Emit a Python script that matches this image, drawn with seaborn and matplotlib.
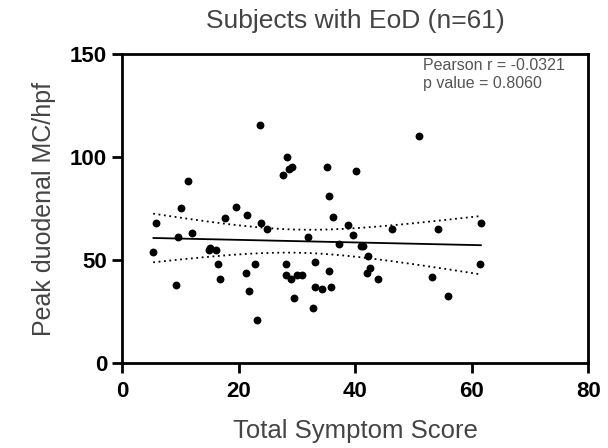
import numpy as np
import pandas as pd
import matplotlib
matplotlib.use("Agg")
import matplotlib.pyplot as plt
import seaborn as sns

# Data
symptom_score = [23.6, 11.2, 28.2, 28.7, 29.1, 27.6, 35.1, 40.1, 35.5, 10.0,
                 19.6, 21.4, 17.6, 36.2, 50.9, 5.8, 23.8, 24.8, 38.7, 39.6,
                 12.0, 9.6, 31.9, 5.3, 14.8, 15.1, 16.1, 37.2, 41.0, 41.4,
                 16.4, 22.8, 21.2, 16.8, 28.1, 28.1, 28.9, 30.0, 30.8, 33.1,
                 35.5, 9.3, 21.8, 33.0, 34.2, 35.8, 29.4, 32.7, 23.1, 46.3,
                 54.2, 61.6, 42.1, 42.6, 42.0, 43.9, 53.1, 61.4, 55.9]
peak_mc = [115.4, 88.3, 100.2, 94.4, 95.2, 91.2, 95.2, 93.3, 81.1, 75.2,
           76.0, 72.1, 70.3, 71.1, 110.2, 68.0, 68.0, 65.0, 66.9, 62.1,
           63.0, 61.1, 61.1, 54.0, 55.1, 55.8, 54.9, 58.0, 57.0, 57.0,
           48.0, 48.0, 43.9, 40.9, 48.0, 43.0, 40.9, 43.0, 43.0, 49.0,
           44.9, 37.8, 34.9, 36.9, 35.9, 36.9, 31.8, 26.8, 20.9, 65.0,
           65.0, 68.0, 52.0, 46.1, 43.9, 40.9, 41.9, 48.0, 32.8]

title = "Subjects with EoD (n=61)"
x_label = "Total Symptom Score"
y_label = "Peak duodenal MC/hpf"
stats_text = "Pearson r = -0.0321\np value = 0.8060"
x_ticks = [0, 20, 40, 60, 80]
y_ticks = [0, 50, 100, 150]

df = pd.DataFrame({"score": symptom_score, "mc": peak_mc})

sns.set_theme(style="ticks")
plt.rcParams["font.family"] = ["Liberation Sans", "DejaVu Sans"]

fig = plt.figure(figsize=(6.08, 4.48), dpi=100)
ax = fig.add_axes([0.2012, 0.189, 0.7664, 0.6905])

sns.scatterplot(data=df, x="score", y="mc", ax=ax, color="black", s=32,
                edgecolor="black", linewidth=0, zorder=3)
sns.regplot(data=df, x="score", y="mc", ax=ax, scatter=False, ci=None,
            color="black", line_kws={"linewidth": 1.3})

# 95% confidence band of the regression line (dotted)
x = np.asarray(symptom_score)
y = np.asarray(peak_mc)
n = len(x)
b, a = np.polyfit(x, y, 1)
xs = np.linspace(x.min(), x.max(), 200)
yhat = a + b * xs
resid = y - (a + b * x)
s = np.sqrt(np.sum(resid ** 2) / (n - 2))
sxx = np.sum((x - x.mean()) ** 2)
tval = 2.001
half = tval * s * np.sqrt(1.0 / n + (xs - x.mean()) ** 2 / sxx)
ax.plot(xs, yhat + half, color="black", linestyle=(0, (1, 2)), linewidth=1.3)
ax.plot(xs, yhat - half, color="black", linestyle=(0, (1, 2)), linewidth=1.3)

ax.set_xlim(0, 80)
ax.set_ylim(0, 150)
ax.set_xticks(x_ticks)
ax.set_yticks(y_ticks)
ax.tick_params(axis="both", direction="out", length=7, width=2, labelsize=16,
               colors="black", pad=4)
ax.tick_params(axis="x", pad=6)
for lbl in ax.get_xticklabels() + ax.get_yticklabels():
    lbl.set_fontweight("bold")
for sp in ax.spines.values():
    sp.set_visible(True)
    sp.set_linewidth(2)
    sp.set_color("black")

ax.set_xlabel(x_label, fontsize=18.5, color="#444444", labelpad=12)
ax.set_ylabel(y_label, fontsize=18, color="#444444", labelpad=10)
ax.set_title(title, fontsize=19, color="#444444", pad=19)

ax.text(51.6, 148, stats_text, fontsize=11.5, color="#555555",
        va="top", ha="left", linespacing=1.25)

fig.savefig("out.png", dpi=100)
